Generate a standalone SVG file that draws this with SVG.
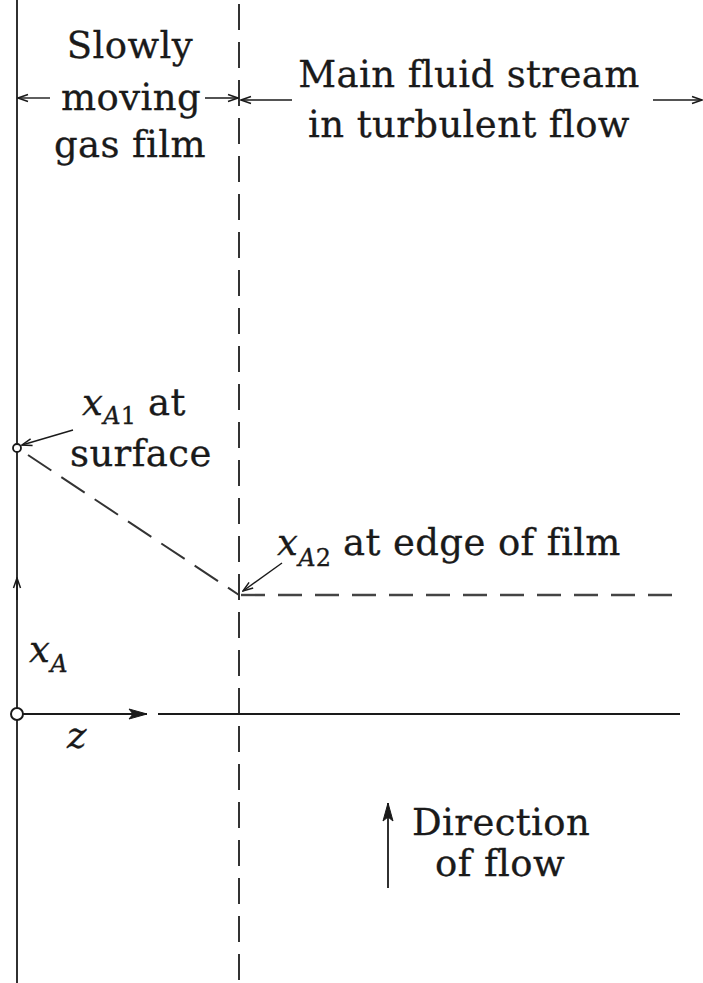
<svg xmlns="http://www.w3.org/2000/svg" width="703" height="983" viewBox="0 0 703 983">
<style>
.t{font-family:"DejaVu Serif","Liberation Serif",serif;font-size:37px;letter-spacing:0.4px;fill:#1a1a1a;stroke:#1a1a1a;stroke-width:0.3}
.i{font-style:italic}
.sub{font-size:24px;letter-spacing:0}
.ln{stroke:#1a1a1a;stroke-width:1.8;fill:none}
.thin{stroke:#1a1a1a;stroke-width:1.4;fill:none}
.dv{stroke:#333;stroke-width:2;fill:none;stroke-dasharray:26 12}
.dh{stroke:#444;stroke-width:2.4;fill:none;stroke-dasharray:24 13}
.ds{stroke:#333;stroke-width:2;fill:none;stroke-dasharray:28 12}
</style>
<defs>
<marker id="ao" viewBox="0 0 12 10" refX="11" refY="5" markerWidth="12" markerHeight="10" markerUnits="userSpaceOnUse" orient="auto-start-reverse">
<path d="M1,1.5 L11,5 L1,8.5" fill="none" stroke="#1a1a1a" stroke-width="1.5"/>
</marker>
<marker id="af" viewBox="0 0 20 12" refX="19" refY="6" markerWidth="20" markerHeight="12" markerUnits="userSpaceOnUse" orient="auto-start-reverse">
<path d="M1,1 L19,6 L1,11 L5,6 Z" fill="#1a1a1a" stroke="#1a1a1a" stroke-width="1"/>
</marker>
</defs>

<g id="axes">
<line class="ln" x1="17" y1="0" x2="17" y2="983"/>
<line class="dv" x1="239" y1="4" x2="239" y2="983"/>
</g>

<g id="connectors">
<line class="thin" x1="50" y1="98" x2="18" y2="98" marker-end="url(#ao)"/>
<line class="thin" x1="205" y1="98" x2="238" y2="98" marker-end="url(#ao)"/>
<line class="thin" x1="292" y1="100" x2="241" y2="100" marker-end="url(#ao)"/>
<line class="thin" x1="653" y1="100" x2="702" y2="100" marker-end="url(#ao)"/>
<line class="thin" x1="73" y1="430" x2="22" y2="445" marker-end="url(#ao)"/>
<line class="thin" x1="282" y1="563" x2="243" y2="591" marker-end="url(#ao)"/>
<line class="ds" x1="28" y1="455" x2="239" y2="595"/>
<line class="dh" x1="241" y1="595" x2="680" y2="595"/>
<line class="thin" x1="17" y1="600" x2="17" y2="578" marker-end="url(#ao)"/>
<line class="ln" x1="23" y1="714" x2="147" y2="714" marker-end="url(#af)"/>
<line class="ln" x1="158" y1="714" x2="680" y2="714"/>
<line class="ln" x1="388" y1="888" x2="388" y2="803" marker-end="url(#af)"/>
</g>

<g id="film-label">
<text class="t" x="130" y="58" text-anchor="middle">Slowly</text>
<text class="t" x="131" y="110" text-anchor="middle">moving</text>
<text class="t" x="130" y="157" text-anchor="middle">gas film</text>
</g>

<g id="stream-label">
<text class="t" x="469" y="87" text-anchor="middle">Main fluid stream</text>
<text class="t" x="469" y="137" text-anchor="middle">in turbulent flow</text>
</g>

<g id="xA1">
<circle cx="17" cy="448" r="4" fill="#fff" stroke="#1a1a1a" stroke-width="1.8"/>
<text class="t" x="82" y="415"><tspan class="i">x</tspan><tspan class="sub i" dy="9">A</tspan><tspan class="sub">1</tspan><tspan dy="-9"> at</tspan></text>
<text class="t" x="70" y="466">surface</text>
</g>

<g id="xA2">
<text class="t" x="277" y="555"><tspan class="i">x</tspan><tspan class="sub i" dy="11">A</tspan><tspan class="sub">2</tspan><tspan dy="-11"> at edge of film</tspan></text>
</g>

<g id="xA">
<text class="t" x="29" y="662"><tspan class="i">x</tspan><tspan class="sub i" dy="10">A</tspan></text>
</g>

<g id="origin">
<circle cx="17" cy="714" r="6" fill="#fff" stroke="#1a1a1a" stroke-width="2"/>
<text class="t i" x="67" y="748">z</text>
</g>

<g id="direction">
<text class="t" x="412" y="835">Direction</text>
<text class="t" x="435" y="876">of flow</text>
</g>
</svg>
